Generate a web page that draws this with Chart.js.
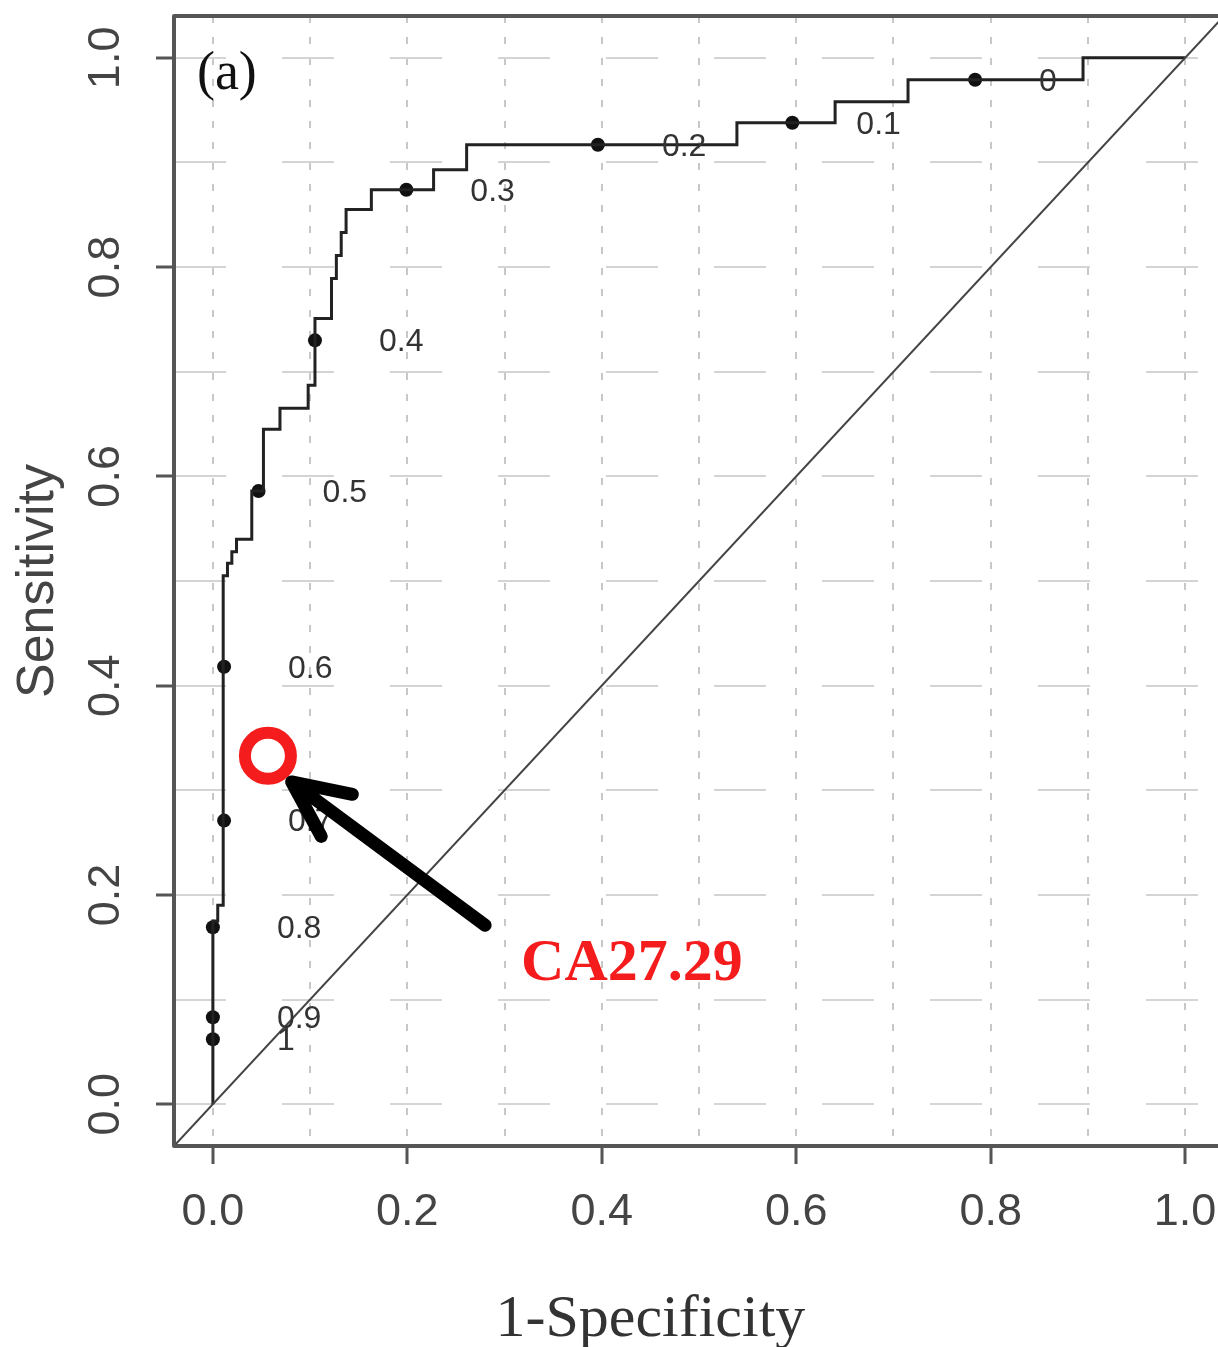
<!DOCTYPE html>
<html>
<head>
<meta charset="utf-8">
<script src="https://cdn.jsdelivr.net/npm/chart.js@4.4.1/dist/chart.umd.min.js"></script>
<style>
  html, body { margin: 0; padding: 0; background: #fff; overflow: hidden; }
  canvas { display: block; }
</style>
</head>
<body>
<canvas id="roc" width="1232" height="1347"></canvas>
<script>
// ROC curve corners (1-specificity, sensitivity)
const rocFpr = [0, 0, 0.005, 0.005, 0.0106, 0.0106, 0.015, 0.015, 0.0195, 0.0195, 0.0243, 0.0243,
  0.040, 0.040, 0.052, 0.052, 0.069, 0.069, 0.098, 0.098, 0.105, 0.105, 0.122, 0.122, 0.127, 0.127,
  0.132, 0.132, 0.137, 0.137, 0.163, 0.163, 0.227, 0.227, 0.261, 0.261, 0.539, 0.539, 0.640, 0.640,
  0.715, 0.715, 0.895, 0.895, 1.0];
const rocTpr = [0, 0.175, 0.175, 0.19, 0.19, 0.505, 0.505, 0.517, 0.517, 0.528, 0.528, 0.540,
  0.540, 0.586, 0.586, 0.645, 0.645, 0.665, 0.665, 0.687, 0.687, 0.751, 0.751, 0.789, 0.789, 0.811,
  0.811, 0.833, 0.833, 0.855, 0.855, 0.874, 0.874, 0.893, 0.893, 0.917, 0.917, 0.938, 0.938, 0.958,
  0.958, 0.979, 0.979, 1.0, 1.0];

// cutoff points printed on the curve
const cutLabels = ['0', '0.1', '0.2', '0.3', '0.4', '0.5', '0.6', '0.7', '0.8', '0.9', '1'];
const cutX = [0.784, 0.596, 0.396, 0.199, 0.105, 0.047, 0.0115, 0.0115, 0, 0, 0];
const cutY = [0.979, 0.938, 0.917, 0.874, 0.730, 0.586, 0.418, 0.271, 0.169, 0.083, 0.062];

// chance line
const diagX = [-0.1, 1.1];
const diagY = [-0.1, 1.1];

// CA27.29 marker and arrow (tail -> tip)
const markX = [0.0566];
const markY = [0.333];
const arrowX = [0.280, 0.081];
const arrowY = [0.171, 0.308];

// text notes
const noteText = ['CA27.29', '(a)'];
const noteX = [0.431, 0.0144];
const noteY = [0.133, 0.984];

// axes
const gridVals = [0, 0.1, 0.2, 0.3, 0.4, 0.5, 0.6, 0.7, 0.8, 0.9, 1.0];
const tickVals = [0, 0.2, 0.4, 0.6, 0.8, 1.0];
const tickLabels = ['0.0', '0.2', '0.4', '0.6', '0.8', '1.0'];

const pts = (xs, ys) => xs.map((v, i) => ({x: v, y: ys[i]}));
const tickText = v => { const i = tickVals.indexOf(v); return i >= 0 ? tickLabels[i] : ''; };
const tickCol = c => tickVals.includes(c.tick && c.tick.value) ? '#555' : 'rgba(0,0,0,0)';

const annotate = {
  id: 'annotate',
  afterDatasetsDraw(chart) {
    const {ctx, chartArea: a, scales: {x, y}} = chart;
    ctx.save();

    // cutoff labels
    ctx.font = '32px "Liberation Sans"';
    ctx.fillStyle = '#333';
    ctx.textAlign = 'left';
    ctx.textBaseline = 'middle';
    cutLabels.forEach((t, i) => {
      ctx.fillText(t, x.getPixelForValue(cutX[i]) + 64, y.getPixelForValue(cutY[i]) + 2);
    });

    // arrow
    const x0 = x.getPixelForValue(arrowX[0]), y0 = y.getPixelForValue(arrowY[0]);
    const x1 = x.getPixelForValue(arrowX[1]), y1 = y.getPixelForValue(arrowY[1]);
    const ang = Math.atan2(y0 - y1, x0 - x1);
    const head = 62, spread = 25 * Math.PI / 180;
    ctx.strokeStyle = '#000';
    ctx.lineWidth = 13;
    ctx.lineCap = 'round';
    ctx.lineJoin = 'round';
    ctx.beginPath();
    ctx.moveTo(x0, y0);
    ctx.lineTo(x1, y1);
    ctx.moveTo(x1 + head * Math.cos(ang - spread), y1 + head * Math.sin(ang - spread));
    ctx.lineTo(x1, y1);
    ctx.lineTo(x1 + head * Math.cos(ang + spread), y1 + head * Math.sin(ang + spread));
    ctx.stroke();

    // notes
    ctx.textAlign = 'center';
    ctx.textBaseline = 'middle';
    ctx.font = 'bold 60px "Liberation Serif"';
    ctx.fillStyle = '#f41c1c';
    ctx.fillText(noteText[0], x.getPixelForValue(noteX[0]), y.getPixelForValue(noteY[0]));
    ctx.font = '54px "Liberation Serif"';
    ctx.fillStyle = '#111';
    ctx.fillText(noteText[1], x.getPixelForValue(noteX[1]), y.getPixelForValue(noteY[1]));

    // plot box
    ctx.strokeStyle = '#555';
    ctx.lineWidth = 4;
    ctx.lineCap = 'butt';
    ctx.strokeRect(a.left, a.top, a.right - a.left, a.bottom - a.top);

    // x axis title, centred where the source put it
    ctx.font = '60px "Liberation Serif"';
    ctx.fillStyle = '#333';
    ctx.textBaseline = 'alphabetic';
    ctx.fillText('1-Specificity', x.getPixelForValue(0.45), 1336);

    ctx.restore();
  }
};

new Chart(document.getElementById('roc'), {
  type: 'scatter',
  data: {
    datasets: [
      {data: pts(diagX, diagY), showLine: true, borderColor: '#444', borderWidth: 2, pointRadius: 0},
      {data: pts(rocFpr, rocTpr), showLine: true, borderColor: '#222', borderWidth: 3, pointRadius: 0},
      {data: pts(cutX, cutY), showLine: false, pointRadius: 7, backgroundColor: '#111', borderWidth: 0},
      {data: pts(markX, markY), showLine: false, pointRadius: 23, borderWidth: 12,
        borderColor: '#f41c1c', backgroundColor: 'rgba(0,0,0,0)'}
    ]
  },
  options: {
    responsive: false,
    animation: false,
    layout: {autoPadding: false, padding: {left: 0, right: 8, top: 16, bottom: 0}},
    plugins: {legend: {display: false}, tooltip: {enabled: false}},
    scales: {
      x: {
        type: 'linear', min: -0.04, max: 1.04,
        afterBuildTicks: s => { s.ticks = gridVals.map(v => ({value: v})); },
        afterFit: s => { s.height = 201; s.paddingLeft = 0; s.paddingRight = 0; },
        border: {display: false, dash: [7, 14]},
        grid: {color: '#c8c8c8', lineWidth: 2, tickLength: 18, tickWidth: 3, tickColor: tickCol},
        ticks: {autoSkip: false, maxRotation: 0, padding: 22, color: '#444',
          font: {family: 'Liberation Sans', size: 45}, callback: tickText}
      },
      y: {
        type: 'linear', min: -0.04, max: 1.04,
        afterBuildTicks: s => { s.ticks = gridVals.map(v => ({value: v})); },
        afterFit: s => { s.width = 174; s.paddingTop = 0; s.paddingBottom = 0; },
        border: {display: false, dash: [52, 56]},
        grid: {color: '#d4d4d4', lineWidth: 2, tickLength: 18, tickWidth: 3, tickColor: tickCol},
        ticks: {autoSkip: false, minRotation: 90, maxRotation: 90, crossAlign: 'center', padding: 18,
          color: '#444', font: {family: 'Liberation Sans', size: 45}, callback: tickText},
        title: {display: true, text: 'Sensitivity', color: '#444',
          font: {family: 'Liberation Sans', size: 52}, padding: {top: 7, bottom: 0}}
      }
    }
  },
  plugins: [annotate]
});
</script>
</body>
</html>
